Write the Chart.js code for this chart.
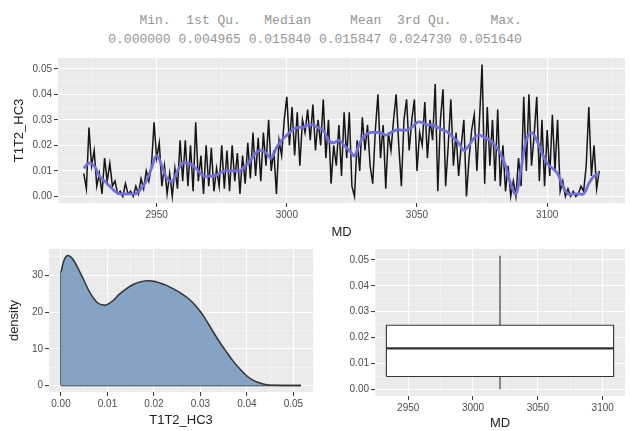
<!DOCTYPE html>
<html>
<head>
<meta charset="utf-8">
<script src="https://cdn.jsdelivr.net/npm/chart.js@4.4.1/dist/chart.umd.min.js"></script>
<style>
  body { margin: 0; background: #fff; }
  #wrap { position: relative; width: 630px; height: 431px; overflow: hidden; }
  #summary {
    position: absolute; left: 0; top: 11px; width: 630px;
    text-align: center; white-space: pre;
    font-family: "Liberation Mono", "DejaVu Sans Mono", monospace;
    font-size: 13px; line-height: 19px; color: #959595;
  }
  canvas { position: absolute; }
</style>
</head>
<body>
<div id="wrap">
  <div id="summary"></div>
  <canvas id="traceChart" width="630" height="190" style="left:0;top:50px"></canvas>
  <canvas id="densityChart" width="320" height="191" style="left:0;top:240px"></canvas>
  <canvas id="boxChart" width="310" height="191" style="left:320px;top:240px"></canvas>
</div>
<script>
// summary(T1T2_HC3)
const summaryLabels = ["Min.", "1st Qu.", "Median", "Mean", "3rd Qu.", "Max."];
const summaryValues = [0.0, 0.004965, 0.01584, 0.015847, 0.02473, 0.05164];

// T1T2_HC3 along MD, one reading per metre starting at mdStart
const mdStart = 2922;
const hc3 = [
  0.009, 0.003, 0.027, 0.012, 0.018, 0.004, 0.009, 0.001, 0.015, 0.006,
  0.013, 0.004, 0.006, 0.001, 0.002, 0.000, 0.005, 0.001, 0.002, 0.000,
  0.004, 0.001, 0.007, 0.003, 0.010, 0.006, 0.012, 0.029, 0.015, 0.021,
  0.004, 0.012, 0.001, 0.009, 0.000, 0.011, 0.003, 0.022, 0.006, 0.022,
  0.004, 0.020, 0.002, 0.029, 0.006, 0.016, 0.001, 0.020, 0.004, 0.019,
  0.002, 0.011, 0.004, 0.020, 0.003, 0.018, 0.002, 0.020, 0.006, 0.017,
  0.001, 0.016, 0.005, 0.021, 0.007, 0.025, 0.008, 0.023, 0.006, 0.025,
  0.012, 0.030, 0.010, 0.018, 0.001, 0.022, 0.016, 0.030, 0.039, 0.020,
  0.035, 0.016, 0.033, 0.012, 0.030, 0.025, 0.034, 0.022, 0.036, 0.018,
  0.030, 0.020, 0.038, 0.015, 0.030, 0.005, 0.020, 0.012, 0.028, 0.008,
  0.033, 0.015, 0.033, 0.004, 0.000, 0.022, 0.010, 0.031, 0.018, 0.028,
  0.012, 0.005, 0.026, 0.040, 0.015, 0.028, 0.003, 0.025, 0.018, 0.030,
  0.040, 0.020, 0.004, 0.030, 0.038, 0.018, 0.030, 0.038, 0.010, 0.025,
  0.020, 0.037, 0.015, 0.030, 0.022, 0.044, 0.002, 0.030, 0.042, 0.004,
  0.020, 0.038, 0.012, 0.025, 0.008, 0.020, 0.030, 0.000, 0.015, 0.026,
  0.032, 0.010, 0.030, 0.05164, 0.005, 0.035, 0.012, 0.030, 0.006, 0.034,
  0.004, 0.020, 0.002, 0.012, 0.000, 0.006, 0.000, 0.015, 0.004, 0.039,
  0.010, 0.040, 0.012, 0.024, 0.039, 0.006, 0.030, 0.004, 0.026, 0.008,
  0.032, 0.010, 0.030, 0.002, 0.006, 0.000, 0.003, 0.000, 0.002, 0.000,
  0.001, 0.004, 0.002, 0.012, 0.035, 0.008, 0.020, 0.003, 0.010
];

// smoothed trend, every 2 m from mdStart
const smoothStep = 2;
const hc3Smooth = [
  0.011, 0.013, 0.012, 0.008, 0.006, 0.004, 0.002, 0.001, 0.001, 0.001,
  0.001, 0.003, 0.006, 0.011, 0.016, 0.012, 0.007, 0.006, 0.010, 0.013,
  0.013, 0.012, 0.010, 0.008, 0.008, 0.008, 0.009, 0.010, 0.010, 0.010,
  0.010, 0.012, 0.014, 0.017, 0.018, 0.017, 0.015, 0.019, 0.022, 0.024,
  0.026, 0.027, 0.027, 0.028, 0.028, 0.027, 0.026, 0.022, 0.021, 0.022,
  0.020, 0.018, 0.016, 0.021, 0.024, 0.025, 0.025, 0.025, 0.024, 0.025,
  0.026, 0.026, 0.026, 0.027, 0.029, 0.029, 0.028, 0.028, 0.027, 0.026,
  0.025, 0.023, 0.021, 0.018, 0.020, 0.023, 0.024, 0.023, 0.022, 0.020,
  0.017, 0.012, 0.005, 0.001, 0.011, 0.022, 0.025, 0.022, 0.017, 0.013,
  0.011, 0.009, 0.004, 0.001, 0.001, 0.001, 0.001, 0.005, 0.008, 0.009
];

// kernel density of T1T2_HC3
const densityX = [
  0.000, 0.0005, 0.001, 0.0016, 0.0025, 0.0035, 0.0048, 0.006, 0.007, 0.008,
  0.0091, 0.010, 0.0113, 0.0125, 0.0141, 0.0155, 0.017, 0.0185, 0.020, 0.0213,
  0.0228, 0.0242, 0.0256, 0.027, 0.0285, 0.0299, 0.031, 0.0328, 0.0343, 0.0357,
  0.037, 0.0385, 0.040, 0.0414, 0.0425, 0.0435, 0.0445, 0.0457, 0.048, 0.05164
];
const densityY = [
  30.9, 33.5, 35.0, 35.4, 34.5, 32.3, 29.0, 25.8, 23.8, 22.4,
  21.9, 22.1, 23.2, 24.8, 26.4, 27.5, 28.2, 28.5, 28.4, 27.9,
  27.2, 26.3, 25.3, 24.1, 22.4, 20.3, 18.3, 14.5, 11.5, 9.0,
  6.7, 4.5, 2.6, 1.4, 0.8, 0.4, 0.15, 0.05, 0.01, 0.0
];

// box extent along MD
const boxLeft = 2933.2;
const boxRight = 3108.4;

// axis breaks
const hc3Major = [0, 0.01, 0.02, 0.03, 0.04, 0.05];
const hc3Minor = [0.005, 0.015, 0.025, 0.035, 0.045];
const mdMajor = [2950, 3000, 3050, 3100];
const mdMinor = [2925, 2975, 3025, 3075, 3125];
const densMajor = [0, 10, 20, 30];
const densMinor = [5, 15, 25, 35];

const sans = '"Liberation Sans", Arial, sans-serif';

document.getElementById("summary").textContent =
  summaryLabels.map((l) => l.padStart(8)).join(" ") + "\n" +
  summaryValues.map((v) => v.toFixed(6)).join(" ");

const panelBg = {
  id: "panelBg",
  beforeDraw(chart) {
    const { ctx, chartArea: a } = chart;
    ctx.save();
    ctx.fillStyle = "#EBEBEB";
    ctx.fillRect(a.left, a.top, a.right - a.left, a.bottom - a.top);
    ctx.restore();
  }
};

function near(list, v) {
  return list.some((m) => Math.abs(m - v) < 1e-9);
}

function axis(o) {
  const all = o.major.concat(o.minor).sort((a, b) => a - b);
  const major = (c) => c.tick && near(o.major, c.tick.value);
  return {
    type: "linear",
    min: o.min,
    max: o.max,
    afterBuildTicks: (s) => { s.ticks = all.map((v) => ({ value: v })); },
    afterFit: (s) => {
      if (s.isHorizontal()) s.height = o.size; else s.width = o.size;
    },
    border: { display: false },
    grid: {
      color: (c) => (major(c) ? "#FFFFFF" : "rgba(255,255,255,0.6)"),
      lineWidth: (c) => (major(c) ? 1.1 : 0.6),
      tickColor: (c) => (major(c) ? "#333333" : "rgba(0,0,0,0)"),
      tickLength: 4,
      tickWidth: 1
    },
    ticks: {
      autoSkip: false,
      maxRotation: 0,
      padding: 2,
      color: "#4D4D4D",
      font: { family: sans, size: 10 },
      callback: (v) => (near(o.major, v) ? o.fmt(v) : "")
    },
    title: {
      display: !!o.title,
      text: o.title || "",
      color: "#222",
      font: { family: sans, size: 13 },
      padding: { top: o.titlePad || 0, bottom: o.titlePad || 0 }
    }
  };
}

const baseOptions = {
  responsive: false,
  animation: false,
  devicePixelRatio: 1,
  plugins: { legend: { display: false }, tooltip: { enabled: false } },
  elements: { point: { radius: 0 } }
};

// MD trace with trend
new Chart(document.getElementById("traceChart"), {
  type: "line",
  data: {
    datasets: [
      {
        data: hc3Smooth.map((v, i) => ({ x: mdStart + i * smoothStep, y: v })),
        borderColor: "#7070dc",
        borderWidth: 2.8,
        tension: 0.4
      },
      {
        data: hc3.map((v, i) => ({ x: mdStart + i, y: v })),
        borderColor: "#151515",
        borderWidth: 1.5,
        tension: 0
      }
    ]
  },
  options: {
    ...baseOptions,
    layout: { padding: { left: 0, top: 5, right: 5, bottom: 0 } },
    scales: {
      x: axis({ min: 2912.1, max: 3129.9, major: mdMajor, minor: mdMinor,
                fmt: (v) => String(v), size: 37, title: "MD", titlePad: 0 }),
      y: axis({ min: -0.002582, max: 0.054222, major: hc3Major, minor: hc3Minor,
                fmt: (v) => v.toFixed(2), size: 58, title: "T1T2_HC3", titlePad: 12 })
    }
  },
  plugins: [panelBg]
});

// density
const densityPts = densityX.map((x, i) => ({ x: x, y: densityY[i] }));
new Chart(document.getElementById("densityChart"), {
  type: "line",
  data: {
    datasets: [
      {
        data: densityPts,
        borderColor: "#333333",
        borderWidth: 1.5,
        backgroundColor: "#84a3c5",
        fill: "origin",
        tension: 0.3
      },
      {
        data: [{ x: densityX[0], y: 0 }, { x: densityX[0], y: densityY[0] }],
        borderColor: "#333333",
        borderWidth: 1.5
      },
      {
        data: [{ x: densityX[0], y: 0 }, { x: densityX[densityX.length - 1], y: 0 }],
        borderColor: "#333333",
        borderWidth: 1.5
      }
    ]
  },
  options: {
    ...baseOptions,
    layout: { padding: { left: 0, top: 9, right: 7, bottom: 0 } },
    scales: {
      x: axis({ min: -0.002582, max: 0.054222, major: hc3Major, minor: hc3Minor,
                fmt: (v) => v.toFixed(2), size: 39, title: "T1T2_HC3", titlePad: 3 }),
      y: axis({ min: -1.77, max: 37.17, major: densMajor, minor: densMinor,
                fmt: (v) => String(v), size: 49, title: "density", titlePad: 7 })
    }
  },
  plugins: [panelBg]
});

// boxplot; datasets listed first are drawn on top
const [vMin, q1, med, , q3, vMax] = summaryValues;
const boxMid = (boxLeft + boxRight) / 2;
const boxLine = { borderColor: "#333333", borderWidth: 1.1, tension: 0 };
new Chart(document.getElementById("boxChart"), {
  type: "line",
  data: {
    datasets: [
      { ...boxLine, borderWidth: 2.2, data: [{ x: boxLeft, y: med }, { x: boxRight, y: med }] },
      { ...boxLine, data: [{ x: boxMid, y: q3 }, { x: boxMid, y: vMax }] },
      { ...boxLine, data: [{ x: boxMid, y: vMin }, { x: boxMid, y: q1 }] },
      {
        ...boxLine,
        backgroundColor: "#FFFFFF",
        fill: "shape",
        data: [
          { x: boxLeft, y: q1 }, { x: boxRight, y: q1 }, { x: boxRight, y: q3 },
          { x: boxLeft, y: q3 }, { x: boxLeft, y: q1 }
        ]
      }
    ]
  },
  options: {
    ...baseOptions,
    layout: { padding: { left: 0, top: 9, right: 5, bottom: 0 } },
    scales: {
      x: axis({ min: 2924.4, max: 3117.2, major: mdMajor, minor: mdMinor.slice(0, 4),
                fmt: (v) => String(v), size: 35, title: "MD", titlePad: 0 }),
      y: axis({ min: -0.002582, max: 0.054222, major: hc3Major, minor: hc3Minor,
                fmt: (v) => v.toFixed(2), size: 55 })
    }
  },
  plugins: [panelBg]
});
</script>
</body>
</html>
